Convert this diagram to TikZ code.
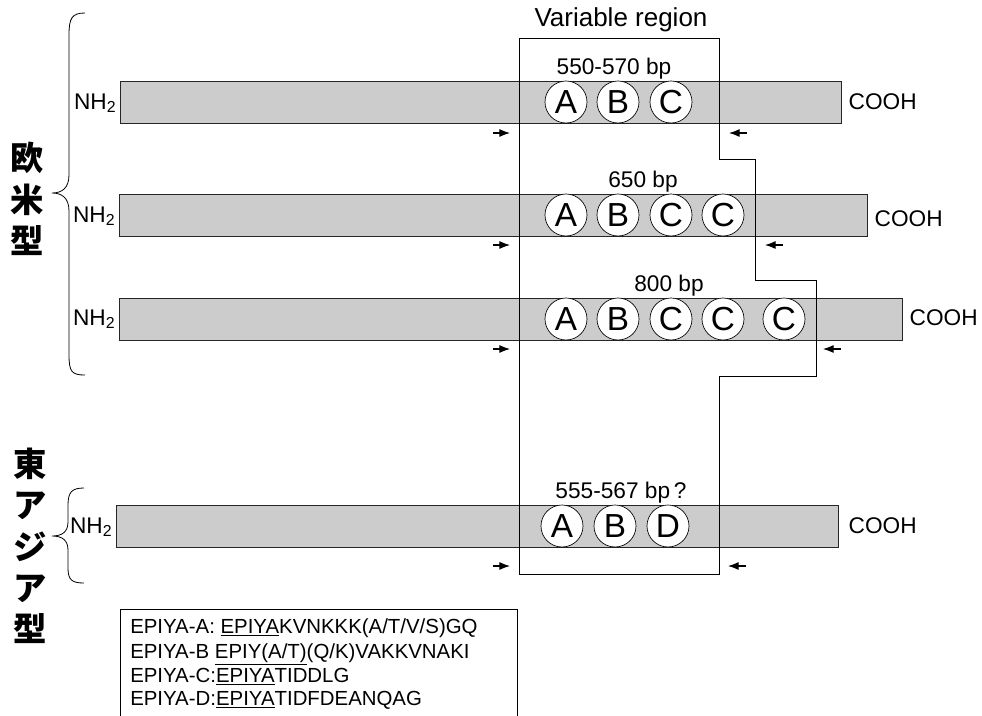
\documentclass[tikz,border=0pt]{standalone}
\usepackage{fontspec}
\setmainfont{Liberation Sans}
\newfontfamily\jp{Noto Sans CJK JP}
\usetikzlibrary{arrows.meta,calc}
\begin{document}
\begin{tikzpicture}[x=0.75pt,y=-0.75pt,
 bar/.style={draw=black!85, fill=black!20, line width=0.6pt, minimum height=31.5pt, inner sep=0pt},
 epi/.style={circle, draw, fill=white, line width=0.5pt, minimum size=31.5pt, inner sep=0pt, font=\fontsize{25}{25}\selectfont},
 lbl/.style={font=\fontsize{17}{18}\selectfont, inner sep=0pt},
 seq/.style={font=\fontsize{15.3}{18}\selectfont, inner sep=0pt, anchor=base west},
 primer/.style={-{Latex[length=8pt,width=6pt]}, line width=0.8pt},
 brace/.style={line width=0.6pt},
 region/.style={line width=0.6pt},
 jptext/.style={font=\jp\bfseries\fontsize{25}{31}\selectfont, align=center, inner sep=0pt}
]
\useasboundingbox (0,0) rectangle (982,715);

% bars
\node[bar, minimum width=540.75pt] (bar1) at (480.5,102) {};
\node[bar, minimum width=561pt] (bar2) at (493,215) {};
\node[bar, minimum width=587.25pt] (bar3) at (510.5,319) {};
\node[bar, minimum width=541.5pt] (bar4) at (477,526) {};

% variable region outline
\draw[region] (519,38) -- (719,38) -- (719,159) -- (755,159) -- (755,280) -- (816,280)
  -- (816,376) -- (719,376) -- (719,574) -- (519,574) -- cycle;
\node[font=\fontsize{19.5}{20}\selectfont, inner sep=0pt, anchor=base] (vr) at (621,26.5) {Variable region};

% EPIYA motifs
\node[epi] (a1) at (566,102) {A};
\node[epi] (b1) at (618,102) {B};
\node[epi] (c1) at (671,102) {C};

\node[epi] (a2) at (566,215) {A};
\node[epi] (b2) at (618,215) {B};
\node[epi] (c2) at (671,215) {C};
\node[epi] (c2b) at (723,215) {C};

\node[epi] (a3) at (566,319) {A};
\node[epi] (b3) at (618,319) {B};
\node[epi] (c3) at (671,319) {C};
\node[epi] (c3b) at (723,319) {C};
\node[epi] (c3c) at (784,319) {C};

\node[epi] (a4) at (562,526) {A};
\node[epi] (b4) at (615,526) {B};
\node[epi] (d4) at (668,526) {D};

% size labels
\node[lbl, anchor=base] (s1) at (614,74) {550-570 bp};
\node[lbl, anchor=base] (s2) at (643,187) {650 bp};
\node[lbl, anchor=base] (s3) at (669,291) {800 bp};
\node[lbl, anchor=base] (s4) at (621,498) {555-567 bp\,?};

% termini
\node[lbl, anchor=base east] (n1) at ($(bar1.west)+(-3,7)$) {NH\textsubscript{2}};
\node[lbl, anchor=base east] (n2) at ($(bar2.west)+(-3,7)$) {NH\textsubscript{2}};
\node[lbl, anchor=base east] (n3) at ($(bar3.west)+(-3,6)$) {NH\textsubscript{2}};
\node[lbl, anchor=base east] (n4) at ($(bar4.west)+(-3,7)$) {NH\textsubscript{2}};

\node[lbl, anchor=base west] (co1) at ($(bar1.east)+(7,7)$) {COOH};
\node[lbl, anchor=base west] (co2) at ($(bar2.east)+(7,11)$) {COOH};
\node[lbl, anchor=base west] (co3) at ($(bar3.east)+(7,6)$) {COOH};
\node[lbl, anchor=base west] (co4) at ($(bar4.east)+(10,7)$) {COOH};

% primers
\coordinate (f1s) at (493,133); \coordinate (f1e) at (510,133);
\coordinate (r1s) at (747,133); \coordinate (r1e) at (729,133);
\coordinate (f2s) at (493,245); \coordinate (f2e) at (510,245);
\coordinate (r2s) at (783,245); \coordinate (r2e) at (765,245);
\coordinate (f3s) at (493,349); \coordinate (f3e) at (510,349);
\coordinate (r3s) at (841,349); \coordinate (r3e) at (823,349);
\coordinate (f4s) at (493,566); \coordinate (f4e) at (510,566);
\coordinate (r4s) at (746,566); \coordinate (r4e) at (728,566);
\foreach \p in {f1,r1,f2,r2,f3,r3,f4,r4} \draw[primer] (\p s) -- (\p e);

% braces
\draw[brace] (85,13) .. controls (72,13) and (69,18) .. (69,35) -- (69,175)
  .. controls (69,188) and (62,193) .. (52,193)
  .. controls (62,193) and (69,198) .. (69,211) -- (69,355)
  .. controls (69,372) and (72,375) .. (85,375);
\draw[brace] (84,488) .. controls (72,488) and (68,492) .. (68,505) -- (68,522)
  .. controls (68,532) and (62,536) .. (52,536)
  .. controls (62,536) and (68,540) .. (68,550) -- (68,568)
  .. controls (68,580) and (72,583) .. (84,583);

% group labels
\node[jptext] (eu) at (27,199) {欧\\米\\型};
\node[jptext] (ea) at (30,546) {東\\ア\\ジ\\ア\\型};

% legend box
\draw[line width=0.6pt] (120,716) -- (120,609) -- (517,609) -- (517,716);
\node[seq] (la) at (130,633) {EPIYA-A: \underline{EPIYA}KVNKKK(A/T/V/S)GQ};
\node[seq] (lb) at (130,658) {EPIYA-B \underline{EPIY(A/T)}(Q/K)VAKKVNAKI};
\node[seq] (lc) at (130,682) {EPIYA-C:\underline{EPIYA}TIDDLG};
\node[seq] (ld) at (130,705) {EPIYA-D:\underline{EPIYA}TIDFDEANQAG};
\end{tikzpicture}
\end{document}
